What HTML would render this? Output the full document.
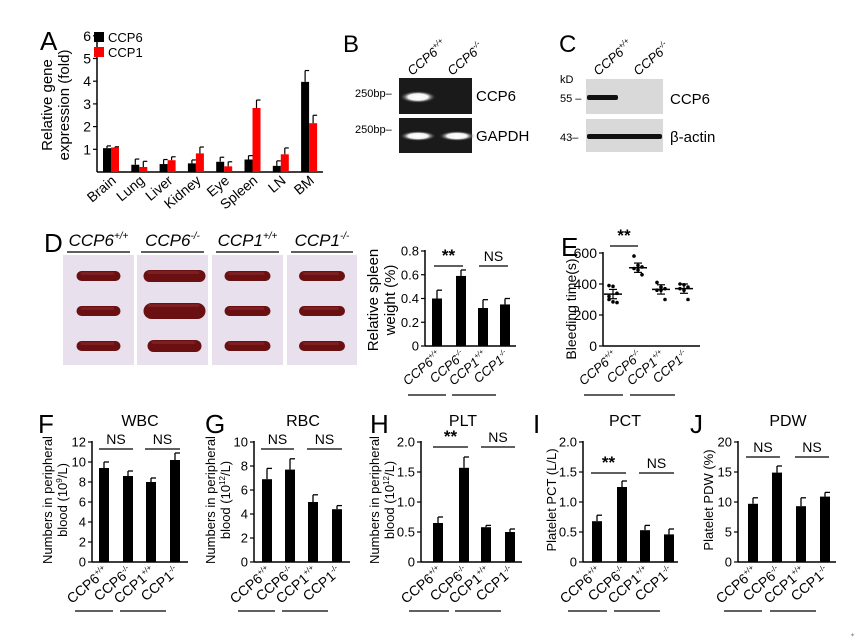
<!DOCTYPE html>
<html><head><meta charset="utf-8">
<style>
html,body{margin:0;padding:0;background:#fff;}
svg{display:block;font-family:"Liberation Sans",Arial,sans-serif;}
</style></head>
<body>
<svg id="s" width="856" height="643" viewBox="0 0 856 643" xmlns="http://www.w3.org/2000/svg">
<defs>
<radialGradient id="glow" cx="50%" cy="50%" r="50%">
<stop offset="0" stop-color="#fff"/><stop offset="0.55" stop-color="#f4f4f4"/><stop offset="1" stop-color="#333" stop-opacity="0"/>
</radialGradient>
</defs>
<text x="343" y="52" font-size="24">B</text>
<text transform="translate(412,76) rotate(-40)" font-size="13" font-style="italic">CCP6<tspan font-size="8" dy="-6">+/+</tspan></text>
<text transform="translate(452,76) rotate(-40)" font-size="13" font-style="italic">CCP6<tspan font-size="8" dy="-6">-/-</tspan></text>
<rect x="399" y="78" width="73" height="36" fill="#1a1a1a"/>
<rect x="399" y="118" width="73" height="35" fill="#1a1a1a"/>
<ellipse cx="418" cy="97" rx="18" ry="6" fill="url(#glow)"/>
<ellipse cx="418" cy="136" rx="18" ry="5" fill="url(#glow)"/>
<ellipse cx="457" cy="136" rx="18" ry="5" fill="url(#glow)"/>
<text x="355" y="97" font-size="11">250bp–</text>
<text x="355" y="133" font-size="11">250bp–</text>
<text x="476" y="101" font-size="15">CCP6</text>
<text x="476" y="141" font-size="15">GAPDH</text>
<text x="559" y="52" font-size="24">C</text>
<text transform="translate(598,76) rotate(-40)" font-size="13" font-style="italic">CCP6<tspan font-size="8" dy="-6">+/+</tspan></text>
<text transform="translate(638,76) rotate(-40)" font-size="13" font-style="italic">CCP6<tspan font-size="8" dy="-6">-/-</tspan></text>
<text x="560" y="83" font-size="11">kD</text>
<rect x="586" y="79" width="77" height="35" fill="#d9d9d9"/>
<rect x="586" y="119" width="77" height="33" fill="#d9d9d9"/>
<rect x="587" y="95" width="31" height="5" rx="2" fill="#111"/>
<rect x="587" y="134" width="75" height="5" rx="2" fill="#111"/>
<text x="560" y="102" font-size="11">55 –</text>
<text x="560" y="141" font-size="11">43–</text>
<text x="670" y="104" font-size="15">CCP6</text>
<text x="670" y="142" font-size="15">β-actin</text>
<text x="44" y="252" font-size="26">D</text>
</svg>
<script>
const s=document.getElementById('s');const NS='http://www.w3.org/2000/svg';
function el(t,a,txt){const e=document.createElementNS(NS,t);for(const k in a)e.setAttribute(k,a[k]);if(txt!==undefined)e.textContent=txt;s.appendChild(e);return e;}
function line(x1,y1,x2,y2,w,c){el('line',{x1,y1,x2,y2,stroke:c||'#000','stroke-width':w||1.5});}
function text(x,y,t,fs,extra){const a=Object.assign({x,y,'font-size':fs||12},extra||{});return el('text',a,t);}
function geno(x,y,base,sup,fs,it){const e=el('text',{transform:`translate(${x},${y}) rotate(-40)`,'font-size':fs||14,'text-anchor':'end','font-style':it?'italic':'normal'});e.textContent=base;const t=document.createElementNS(NS,'tspan');t.setAttribute('font-size',(fs||14)*0.55);t.setAttribute('dy',-6);t.textContent=sup;e.appendChild(t);}
function ylab(x,y,lines,fs){lines.forEach((l,i)=>{const e=el('text',{transform:`translate(${x+i*(fs+2)},${y}) rotate(-90)`,'font-size':fs,'text-anchor':'middle'});e.innerHTML=l;});}
function bars(o){
 const sc=(o.y0-o.y1)/o.max;const Y=v=>o.y0-v*sc;
 line(o.ax,o.y1-1,o.ax,o.y0,1.5);line(o.ax,o.y0,o.xend,o.y0,1.5);
 o.ticks.forEach(t=>{line(o.ax-4,Y(t[0]),o.ax,Y(t[0]),1.2);text(o.ax-6,Y(t[0])+4.5,t[1],o.tfs||13,{'text-anchor':'end'});});
 o.data.forEach((d,i)=>{const x=o.bx[i];const w=o.bw||10;
  el('rect',{x,y:Y(d[0]),width:w,height:d[0]*sc,fill:d[2]||'#000'});
  const cx=x+w/2;line(cx,Y(d[0]),cx,Y(d[0]+d[1]),1.3);line(cx,Y(d[0]+d[1]),cx+5,Y(d[0]+d[1]),1.3);
 });
}
function xg(o,fs,it){const n=['CCP6','CCP6','CCP1','CCP1'],sp=['+/+','-/-','+/+','-/-'];
 o.bx.forEach((x,i)=>geno(x+10,o.y0+11,n[i],sp[i],fs||14,it));
 const y=o.y0+49;line(o.bx[0]-24,y,o.bx[1]-10,y,1.2);line(o.bx[2]-26,y,o.bx[3]-4,y,1.2);}
function sig(x1,x2,y,t){line(x1,y,x2,y,1.3);text((x1+x2)/2,y-5,t,t=='**'?17:14,{'text-anchor':'middle','font-weight':t=='**'?'bold':'normal'});}

text(40,50,'A',26);
ylab(52,105,['Relative gene','expression (fold)'],15);
(function(){const ax=97,y0=172,sc=22.7;line(ax,36,ax,y0,1.5);line(ax,y0,323,y0,1.5);
 for(let t=1;t<=6;t++){line(ax-4,y0-t*sc,ax,y0-t*sc,1.2);text(ax-6,y0-t*sc+5,String(t),14,{'text-anchor':'end'});}
 const d=[[1.05,.1,1.08,.03],[.32,.25,.22,.25],[.35,.2,.52,.15],[.38,.15,.82,.28],[.45,.2,.25,.2],[.55,.17,2.82,.35],[.27,.22,.78,.28],[3.97,.5,2.15,.35]];
 const names=['Brain','Lung','Liver','Kidney','Eye','Spleen','LN','BM'];
 d.forEach((v,i)=>{const x=103+i*28.3;
  [[v[0],v[1],'#000',x],[v[2],v[3],'#f00',x+8]].forEach(b=>{el('rect',{x:b[3],y:y0-b[0]*sc,width:8,height:b[0]*sc,fill:b[2]});const cx=b[3]+4,top=y0-(b[0]+b[1])*sc;line(cx,y0-b[0]*sc,cx,top,1.2);line(cx,top,cx+4,top,1.2);});
  el('text',{transform:`translate(${x+14},${y0+10}) rotate(-40)`,'font-size':14,'text-anchor':'end'},names[i]);
 });
 el('rect',{x:94,y:32,width:10,height:10,fill:'#000'});text(108,42,'CCP6',13);
 el('rect',{x:94,y:47,width:10,height:10,fill:'#f00'});text(108,57,'CCP1',13);
})();

const px=[63,137,212,287],pw=[71,71,71,70];const labs=[['CCP6','+/+'],['CCP6','-/-'],['CCP1','+/+'],['CCP1','-/-']];
px.forEach((x,i)=>{el('rect',{x,y:255,width:pw[i],height:110,fill:'#e8e0ec'});
 const big=i==1;[276,311,346].forEach((y,j)=>{const w=big?(j==2?54:62):(i==0?44:46);const h=big?(j==1?16:12):10;const cx=x+pw[i]/2+(big?2:0);
  el('rect',{x:cx-w/2,y:y-h/2,width:w,height:h,rx:h/2,fill:'#6a0f12'});
  el('rect',{x:cx-w/2+4,y:y-h/2+1,width:w-10,height:3,rx:1.5,fill:'#8a2a2a',opacity:.6});});
 const t=el('text',{x:x+pw[i]/2,y:246,'font-size':17,'font-style':'italic','text-anchor':'middle'},labs[i][0]);
 const ts=document.createElementNS(NS,'tspan');ts.setAttribute('font-size',10);ts.setAttribute('dy',-7);ts.textContent=labs[i][1];t.appendChild(ts);
 line(x+4,252,x+pw[i]-4,252,1.2);
});

const sp={ax:425,y0:346,y1:251,max:0.8,xend:516,bx:[432,456,478,500],ticks:[[0,'0'],[0.2,'0.2'],[0.4,'0.4'],[0.6,'0.6'],[0.8,'0.8']],data:[[0.40,0.07],[0.59,0.05],[0.32,0.07],[0.35,0.05]]};
bars(sp);xg(sp,13,true);sig(434,463,266,'**');sig(479,508,266,'NS');
ylab(378,300,['Relative spleen','weight (%)'],15);

text(561,256,'E',26);
(function(){const ax=603,y0=346,sc=93/600;line(ax,252,ax,y0,1.5);line(ax,y0,700,y0,1.5);
 [0,200,400,600].forEach(t=>{line(ax-4,y0-t*sc,ax,y0-t*sc,1.2);text(ax-6,y0-t*sc+5,String(t),14,{'text-anchor':'end'});});
 const xs=[613,638,661,684];const m=[335,505,365,370];
 const pts=[[390,385,340,320,285,280,300],[580,520,510,500,490,460],[410,380,370,360,360,300],[400,395,380,370,360,300]];
 xs.forEach((x,i)=>{pts[i].forEach((p,j)=>{const dx=((j%3)-1)*4;el('circle',{cx:x+dx,cy:y0-p*sc,r:1.8,fill:'#000'});});
  line(x-9,y0-m[i]*sc,x+9,y0-m[i]*sc,1.5);line(x,y0-(m[i]+30)*sc,x,y0-(m[i]-30)*sc,1.2);
  line(x-4,y0-(m[i]+30)*sc,x+4,y0-(m[i]+30)*sc,1.2);line(x-4,y0-(m[i]-30)*sc,x+4,y0-(m[i]-30)*sc,1.2);});
 const o={bx:xs.map(x=>x-5),y0};xg(o,13,true);
 sig(610,638,246,'**');
 ylab(576,309,['Bleeding time(s)'],14);
})();
const Y0=562,Y1=442;
const P=[
 {L:'F',lx:38,title:'WBC',tx:140,ax:92,xend:188,bx:[99,123,146,170],max:12,ticks:[0,2,4,6,8,10,12].map(t=>[t,String(t)]),data:[[9.4,.6],[8.6,.5],[8.0,.4],[10.2,.7]],yl:['Numbers in peripheral','blood (10<tspan font-size="8" dy="-5">9</tspan><tspan dy="5">/L)</tspan>'],ylx:52,sig:[[99,133,449,'NS'],[145,180,449,'NS']]},
 {L:'G',lx:205,title:'RBC',tx:303,ax:254,xend:350,bx:[262,285,308,332],max:10,ticks:[0,2,4,6,8,10].map(t=>[t,String(t)]),data:[[6.9,.9],[7.7,.9],[5.0,.6],[4.4,.3]],yl:['Numbers in peripheral','blood (10<tspan font-size="8" dy="-5">12</tspan><tspan dy="5">/L)</tspan>'],ylx:215,sig:[[261,294,449,'NS'],[307,342,449,'NS']]},
 {L:'H',lx:370,title:'PLT',tx:463,ax:421,xend:522,bx:[433,459,481,505],max:2,ticks:[[0,'0'],[.5,'0.5'],[1,'1.0'],[1.5,'1.5'],[2,'2.0']],data:[[.65,.1],[1.57,.18],[.58,.03],[.5,.05]],yl:['Numbers in peripheral','blood (10<tspan font-size="8" dy="-5">12</tspan><tspan dy="5">/L)</tspan>'],ylx:379,sig:[[433,468,447,'**'],[481,515,447,'NS']]},
 {L:'I',lx:533,title:'PCT',tx:625,ax:583,xend:678,bx:[592,617,640,664],max:2,ticks:[[0,'0'],[.5,'0.5'],[1,'1.0'],[1.5,'1.5'],[2,'2.0']],data:[[.68,.1],[1.25,.1],[.53,.08],[.46,.09]],yl:['Platelet PCT (L/L)'],ylx:556,sig:[[591,626,473,'**'],[639,674,473,'NS']]},
 {L:'J',lx:690,title:'PDW',tx:788,ax:738,xend:836,bx:[748,772,796,820],max:20,ticks:[0,5,10,15,20].map(t=>[t,String(t)]),data:[[9.7,1],[14.9,1.1],[9.3,1.4],[10.9,.7]],yl:['Platelet PDW (%)'],ylx:713,sig:[[746,780,457,'NS'],[795,829,457,'NS']]}
];
P.forEach(p=>{text(p.lx,433,p.L,26);text(p.tx,426,p.title,16,{'text-anchor':'middle'});
 const o={ax:p.ax,y0:Y0,y1:Y1,max:p.max,xend:p.xend,bx:p.bx,ticks:p.ticks,data:p.data,tfs:13};
 bars(o);xg(o,14,false);p.sig.forEach(g=>sig(...g));
 ylab(p.ylx,500,p.yl,13);
});
text(850,637,'✦',6,{fill:'#999'});
</script>
</body></html>
